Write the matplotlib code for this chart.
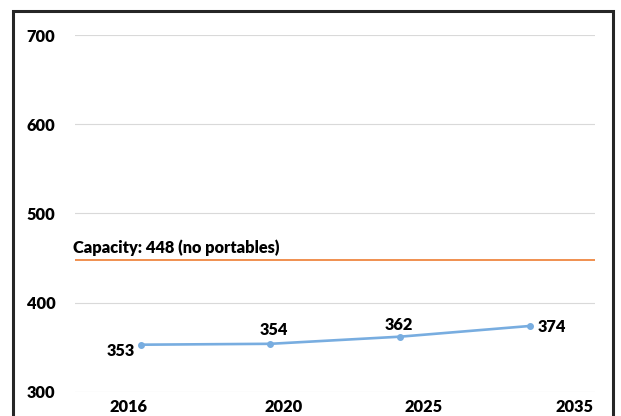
import matplotlib.pyplot as plt
from matplotlib.patches import Rectangle

plt.rcParams['font.family'] = ['Lato', 'DejaVu Sans']

# enrollment projection
years = ["2016", "2020", "2025", "2035"]
enrollment = [353, 354, 362, 374]
capacity = 448
capacity_label = "Capacity: 448 (no portables)"
year_label_pos = [-0.09, 1.10, 2.18, 3.34]   # labels sit a bit off the points in the original
yticks = [300, 400, 500, 600, 700]

fig = plt.figure(figsize=(6.21, 4.16), dpi=100)
ax = fig.add_axes([75/621, 1 - 392/416, 520/621, 357/416])

x = list(range(len(years)))
ax.plot(x, enrollment, color="#78ADE0", linewidth=1.9, marker="o", markersize=4, zorder=3)
ax.axhline(capacity, color="#ED7D31", linewidth=1.2, zorder=2)
ax.text(-0.52, capacity + 4, capacity_label, fontsize=11.8, fontweight="heavy", ha="left", va="bottom")

# data labels
offsets = [(-20, -6), (3, 14), (-1, 12), (22, -1)]
for xi, v, off in zip(x, enrollment, offsets):
    ax.annotate(str(v), (xi, v), xytext=off, textcoords="offset pixels",
                ha="center", va="center", fontsize=11.8, fontweight="heavy")

ax.set_xlim(-0.506, 3.5)
ax.set_ylim(300, 700)
ax.set_yticks(yticks)
ax.set_yticklabels([str(t) for t in yticks], fontsize=11.8, fontweight="heavy")
ax.set_xticks(year_label_pos)
ax.set_xticklabels(years, fontsize=11.8, fontweight="heavy")
ax.tick_params(axis="both", length=0)
ax.tick_params(axis="y", pad=14)
ax.tick_params(axis="x", pad=5)
ax.grid(axis="y", color="#D9D9D9", linewidth=0.8)
ax.set_axisbelow(True)
for s in ax.spines.values():
    s.set_visible(False)

# outer frame (bottom edge is cut off in the original)
fig.patches.append(Rectangle((12.7/621, -0.2), 600/621, 1.2 - 11/416, transform=fig.transFigure,
                             fill=False, edgecolor="#262626", linewidth=2.2))

fig.savefig("out.png", dpi=100)
